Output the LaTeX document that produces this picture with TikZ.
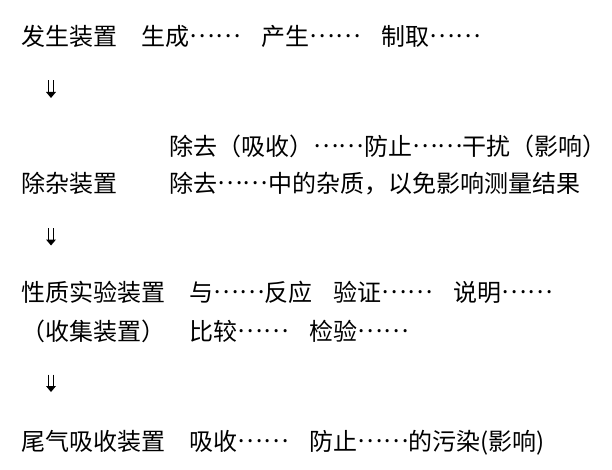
\documentclass[tikz,border=0pt]{standalone}
\usepackage{fontspec}
\newfontfamily\cjk{Noto Sans CJK SC}
\newcommand\dian{\raisebox{7.5pt}{……}}
\tikzset{
  lbl/.style={anchor=west, inner sep=0pt, font=\cjk\fontsize{24}{28}\selectfont, text height=21.1pt, text depth=2.9pt},
  dblarrow/.pic={
    \draw[line width=1.4pt] (-2.6,-8) -- (-2.6,4.5) (2.6,-8) -- (2.6,4.5);
    \fill (-5,3.5) -- (5,3.5) -- (0,9.5) -- cycle;
  }
}
\begin{document}
\begin{tikzpicture}[x=1pt,y=-1pt]
\useasboundingbox[fill=white] (0,0) rectangle (612,470);
% row 1
\node[lbl] (fs) at (21.5,36) {发生装置};
\node[lbl] (sc) at (141.5,36) {生成\dian};
\node[lbl] (cs) at (261.5,36) {产生\dian};
\node[lbl] (zq) at (381.5,36) {制取\dian};
\pic (a1) at (51,88.5) {dblarrow};
% row 2
\node[lbl] (cq1) at (169,146) {除去（吸收）\dian 防止\dian 干扰（影响）};
\node[lbl] (cz) at (21.5,183) {除杂装置};
\node[lbl] (cq2) at (169,183) {除去\dian 中的杂质，以免影响测量结果};
\pic (a2) at (51,236) {dblarrow};
% row 3
\node[lbl] (xz) at (21.5,292) {性质实验装置};
\node[lbl] (fy) at (189.5,292) {与\dian 反应};
\node[lbl] (yz) at (333.5,292) {验证\dian};
\node[lbl] (sm) at (453.5,292) {说明\dian};
\node[lbl] (sj) at (21.5,331) {（收集装置）};
\node[lbl] (bj) at (189.5,331) {比较\dian};
\node[lbl] (jy) at (309.5,331) {检验\dian};
\pic (a3) at (51,382.5) {dblarrow};
% row 4
\node[lbl] (wq) at (21.5,441) {尾气吸收装置};
\node[lbl] (xs) at (189.5,441) {吸收\dian};
\node[lbl] (fz) at (309.5,441) {防止\dian 的污染(影响)};
\end{tikzpicture}
\end{document}
